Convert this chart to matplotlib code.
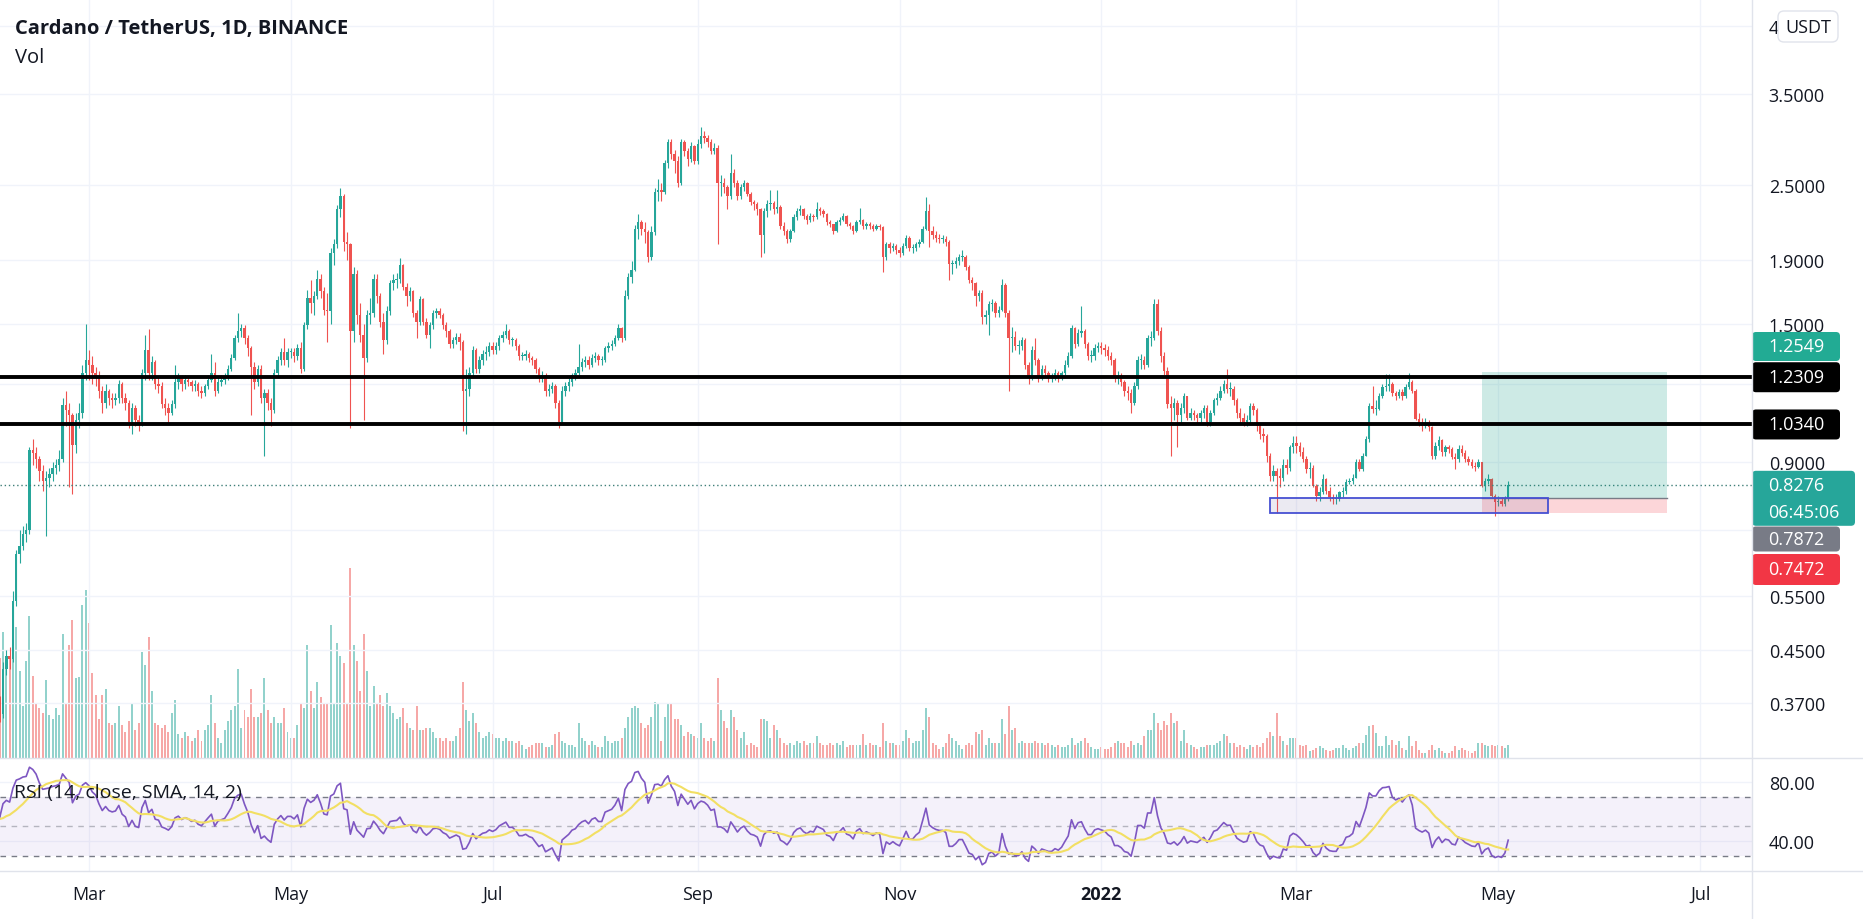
import numpy as np
import pandas as pd
import matplotlib
matplotlib.use("Agg")
import matplotlib.pyplot as plt
import matplotlib.dates as mdates
from matplotlib.patches import Rectangle, FancyBboxPatch

plt.rcParams['font.family'] = ['Open Sans', 'DejaVu Sans']

# Dec 31 2020 + January 2021 closes (left of the visible range, only warm up the RSI)
warmup_close = [0.181, 0.175, 0.177, 0.205, 0.225, 0.258, 0.306, 0.311, 0.316, 0.321, 0.305,
                0.275, 0.284, 0.315, 0.349, 0.325, 0.349, 0.369, 0.373, 0.344, 0.333, 0.295,
                0.324, 0.317, 0.343, 0.324, 0.340, 0.310, 0.349, 0.331, 0.347, 0.366]

# daily ADA/USDT candles from 2021-02-01: (close, high, low, volume); open = previous close
feb21 = [(0.370, 0.390, 0.350, 90), (0.355, 0.380, 0.345, 100), (0.420, 0.430, 0.350, 126),
         (0.440, 0.450, 0.410, 102), (0.435, 0.455, 0.420, 102), (0.540, 0.560, 0.430, 106),
         (0.640, 0.650, 0.530, 130), (0.660, 0.700, 0.620, 87), (0.690, 0.710, 0.650, 52),
         (0.700, 0.720, 0.670, 97), (0.940, 0.950, 0.690, 141), (0.930, 0.980, 0.890, 82),
         (0.910, 0.950, 0.880, 54), (0.870, 0.920, 0.840, 50), (0.840, 0.890, 0.810, 45),
         (0.850, 0.870, 0.685, 78), (0.860, 0.880, 0.820, 43), (0.880, 0.900, 0.840, 39),
         (0.890, 0.910, 0.860, 50), (0.910, 0.940, 0.870, 43), (1.110, 1.140, 0.900, 124),
         (1.090, 1.170, 1.030, 54), (1.070, 1.120, 0.820, 113), (0.960, 1.080, 0.800, 137),
         (1.050, 1.080, 0.930, 80), (1.080, 1.120, 1.020, 81), (1.250, 1.290, 1.060, 152),
         (1.310, 1.500, 1.220, 167)]
mar21 = [(1.29, 1.36, 1.22, 134), (1.25, 1.33, 1.20, 85), (1.23, 1.28, 1.19, 63),
         (1.17, 1.26, 1.14, 39), (1.12, 1.19, 1.08, 63), (1.17, 1.20, 1.10, 69),
         (1.14, 1.18, 1.11, 35), (1.13, 1.16, 1.10, 33), (1.14, 1.16, 1.11, 35),
         (1.20, 1.22, 1.12, 52), (1.14, 1.21, 1.12, 33), (1.12, 1.16, 1.09, 26),
         (1.045, 1.13, 1.02, 37), (1.10, 1.12, 1.00, 54), (1.05, 1.11, 1.03, 28),
         (1.04, 1.07, 1.01, 35), (1.25, 1.27, 1.03, 106), (1.36, 1.44, 1.22, 93),
         (1.25, 1.47, 1.22, 121), (1.30, 1.33, 1.22, 67), (1.20, 1.31, 1.18, 35),
         (1.19, 1.23, 1.16, 33), (1.115, 1.21, 1.10, 30), (1.10, 1.14, 1.07, 33),
         (1.08, 1.12, 1.045, 26), (1.115, 1.13, 1.07, 45), (1.21, 1.29, 1.10, 58),
         (1.23, 1.25, 1.18, 24), (1.20, 1.24, 1.17, 20), (1.22, 1.24, 1.18, 26),
         (1.21, 1.23, 1.19, 22)]
apr21 = [(1.19, 1.22, 1.17, 17), (1.20, 1.22, 1.17, 20), (1.17, 1.21, 1.15, 28),
         (1.16, 1.19, 1.14, 17), (1.19, 1.20, 1.15, 28), (1.22, 1.24, 1.18, 33),
         (1.25, 1.34, 1.21, 63), (1.17, 1.30, 1.15, 35), (1.21, 1.23, 1.16, 20),
         (1.22, 1.24, 1.19, 15), (1.23, 1.25, 1.20, 28), (1.27, 1.29, 1.22, 37),
         (1.32, 1.34, 1.26, 48), (1.42, 1.44, 1.31, 52), (1.46, 1.56, 1.40, 89),
         (1.475, 1.50, 1.43, 30), (1.42, 1.49, 1.39, 48), (1.37, 1.44, 1.33, 41),
         (1.28, 1.38, 1.07, 69), (1.21, 1.30, 1.18, 41), (1.27, 1.29, 1.19, 41),
         (1.14, 1.29, 1.12, 45), (1.16, 1.18, 0.92, 80), (1.12, 1.18, 1.09, 48),
         (1.09, 1.14, 1.03, 35), (1.25, 1.27, 1.08, 41), (1.31, 1.33, 1.23, 35),
         (1.35, 1.37, 1.29, 35), (1.31, 1.42, 1.29, 50), (1.35, 1.37, 1.28, 26)]
may21 = [(1.35, 1.37, 1.32, 20), (1.33, 1.37, 1.30, 20), (1.37, 1.39, 1.31, 33),
         (1.27, 1.40, 1.25, 54), (1.49, 1.51, 1.26, 50), (1.65, 1.70, 1.47, 113),
         (1.62, 1.76, 1.56, 67), (1.66, 1.69, 1.55, 50), (1.77, 1.83, 1.64, 76),
         (1.69, 1.80, 1.65, 61), (1.58, 1.72, 1.55, 54), (1.57, 1.68, 1.40, 54),
         (1.95, 1.98, 1.50, 132), (2.01, 2.05, 1.86, 54), (2.29, 2.32, 1.98, 115),
         (2.40, 2.47, 2.22, 102), (2.03, 2.42, 1.96, 95), (2.01, 2.10, 1.90, 54),
         (1.46, 2.02, 1.02, 189), (1.80, 1.85, 1.40, 113), (1.55, 1.83, 1.50, 97),
         (1.44, 1.62, 1.40, 67), (1.32, 1.50, 1.05, 124), (1.55, 1.58, 1.30, 87),
         (1.56, 1.65, 1.50, 52), (1.77, 1.80, 1.54, 72), (1.66, 1.80, 1.62, 54),
         (1.51, 1.68, 1.48, 63), (1.41, 1.56, 1.34, 52), (1.57, 1.60, 1.39, 65),
         (1.74, 1.76, 1.55, 52)]
jun21 = [(1.76, 1.80, 1.70, 45), (1.77, 1.81, 1.71, 39), (1.86, 1.91, 1.74, 41),
         (1.72, 1.87, 1.70, 50), (1.66, 1.74, 1.60, 35), (1.69, 1.72, 1.63, 30),
         (1.56, 1.70, 1.54, 28), (1.51, 1.58, 1.42, 52), (1.64, 1.66, 1.49, 28),
         (1.51, 1.65, 1.49, 28), (1.44, 1.53, 1.42, 30), (1.49, 1.51, 1.37, 30),
         (1.56, 1.58, 1.47, 26), (1.57, 1.59, 1.53, 20), (1.55, 1.59, 1.53, 20),
         (1.49, 1.56, 1.47, 17), (1.46, 1.51, 1.43, 20), (1.39, 1.47, 1.37, 17),
         (1.41, 1.43, 1.37, 17), (1.43, 1.45, 1.39, 22), (1.40, 1.45, 1.36, 30),
         (1.17, 1.41, 1.01, 76), (1.18, 1.27, 1.00, 48), (1.25, 1.28, 1.15, 37),
         (1.36, 1.38, 1.23, 45), (1.27, 1.37, 1.25, 35), (1.31, 1.33, 1.25, 26),
         (1.34, 1.36, 1.29, 20), (1.35, 1.38, 1.31, 22), (1.38, 1.40, 1.33, 26)]
jul21 = [(1.36, 1.40, 1.34, 24), (1.38, 1.40, 1.34, 20), (1.42, 1.44, 1.36, 20),
         (1.44, 1.46, 1.40, 17), (1.46, 1.50, 1.42, 20), (1.41, 1.47, 1.39, 17),
         (1.41, 1.43, 1.38, 17), (1.38, 1.42, 1.36, 15), (1.33, 1.39, 1.31, 17),
         (1.33, 1.35, 1.31, 13), (1.34, 1.36, 1.31, 9), (1.32, 1.35, 1.30, 11),
         (1.31, 1.33, 1.29, 13), (1.27, 1.32, 1.25, 15), (1.23, 1.28, 1.21, 15),
         (1.24, 1.26, 1.21, 15), (1.17, 1.25, 1.15, 11), (1.18, 1.20, 1.15, 11),
         (1.19, 1.21, 1.16, 13), (1.12, 1.20, 1.10, 24), (1.045, 1.13, 1.02, 26),
         (1.17, 1.19, 1.04, 17), (1.19, 1.21, 1.15, 15), (1.21, 1.23, 1.17, 13),
         (1.24, 1.25, 1.19, 13), (1.25, 1.27, 1.22, 11), (1.28, 1.39, 1.24, 35),
         (1.30, 1.32, 1.26, 20), (1.31, 1.33, 1.28, 17), (1.29, 1.33, 1.27, 13),
         (1.32, 1.34, 1.28, 17)]
aug21 = [(1.33, 1.35, 1.30, 13), (1.31, 1.34, 1.29, 11), (1.31, 1.33, 1.29, 11),
         (1.37, 1.38, 1.30, 22), (1.38, 1.40, 1.35, 17), (1.39, 1.41, 1.36, 15),
         (1.42, 1.44, 1.38, 17), (1.475, 1.50, 1.41, 17), (1.42, 1.48, 1.40, 20),
         (1.66, 1.70, 1.41, 30), (1.78, 1.81, 1.64, 41), (1.83, 1.89, 1.74, 50),
         (2.13, 2.16, 1.82, 52), (2.18, 2.25, 2.05, 50), (2.13, 2.20, 2.08, 35),
         (2.10, 2.18, 2.02, 30), (1.92, 2.12, 1.88, 33), (2.10, 2.15, 1.90, 41),
         (2.44, 2.47, 2.08, 56), (2.46, 2.56, 2.36, 54), (2.44, 2.52, 2.36, 17),
         (2.71, 2.74, 2.42, 41), (2.93, 2.96, 2.66, 54), (2.80, 2.97, 2.75, 54),
         (2.73, 2.85, 2.62, 39), (2.52, 2.78, 2.48, 39), (2.93, 2.96, 2.50, 33),
         (2.84, 2.95, 2.78, 22), (2.75, 2.87, 2.68, 26), (2.89, 2.93, 2.72, 24),
         (2.73, 2.90, 2.70, 22)]
sep21 = [(2.91, 2.96, 2.70, 20), (3.00, 3.10, 2.87, 35), (2.98, 3.05, 2.92, 20),
         (2.93, 3.01, 2.88, 17), (2.84, 2.96, 2.80, 20), (2.87, 2.92, 2.80, 17),
         (2.52, 2.90, 2.01, 80), (2.52, 2.60, 2.40, 48), (2.48, 2.57, 2.43, 37),
         (2.40, 2.50, 2.29, 30), (2.62, 2.80, 2.38, 48), (2.52, 2.65, 2.48, 41),
         (2.40, 2.55, 2.37, 28), (2.48, 2.51, 2.38, 20), (2.52, 2.55, 2.45, 26),
         (2.42, 2.53, 2.40, 13), (2.35, 2.44, 2.32, 15), (2.33, 2.37, 2.28, 13),
         (2.29, 2.35, 2.24, 11), (2.08, 2.30, 1.92, 39), (2.27, 2.30, 1.95, 39),
         (2.33, 2.37, 2.22, 37), (2.34, 2.46, 2.28, 20), (2.29, 2.36, 2.25, 33),
         (2.31, 2.46, 2.26, 28), (2.15, 2.32, 2.13, 20), (2.11, 2.18, 2.08, 15),
         (2.05, 2.13, 2.02, 13), (2.11, 2.13, 2.03, 15), (2.22, 2.25, 2.10, 13)]
oct21 = [(2.27, 2.30, 2.20, 17), (2.29, 2.32, 2.24, 15), (2.23, 2.30, 2.21, 17),
         (2.20, 2.25, 2.17, 13), (2.23, 2.26, 2.18, 15), (2.22, 2.25, 2.19, 15),
         (2.29, 2.35, 2.21, 22), (2.27, 2.31, 2.24, 15), (2.25, 2.29, 2.22, 13),
         (2.18, 2.26, 2.16, 13), (2.165, 2.20, 2.14, 15), (2.11, 2.17, 2.09, 13),
         (2.18, 2.20, 2.10, 15), (2.20, 2.22, 2.16, 13), (2.235, 2.26, 2.19, 17),
         (2.165, 2.24, 2.15, 11), (2.15, 2.18, 2.13, 13), (2.11, 2.16, 2.09, 13),
         (2.18, 2.20, 2.10, 13), (2.20, 2.30, 2.17, 13), (2.15, 2.21, 2.13, 24),
         (2.165, 2.18, 2.13, 13), (2.15, 2.18, 2.13, 15), (2.13, 2.17, 2.11, 13),
         (2.15, 2.17, 2.12, 13), (2.14, 2.17, 2.12, 11), (1.92, 2.15, 1.815, 35),
         (2.01, 2.03, 1.90, 17), (1.98, 2.03, 1.95, 15), (2.00, 2.02, 1.96, 15),
         (1.97, 2.01, 1.94, 13)]
nov21 = [(1.95, 1.99, 1.92, 13), (2.00, 2.02, 1.93, 17), (2.06, 2.08, 1.98, 28),
         (1.98, 2.07, 1.96, 20), (1.98, 2.01, 1.95, 15), (2.01, 2.03, 1.96, 17),
         (2.03, 2.05, 1.99, 17), (2.13, 2.15, 2.02, 28), (2.27, 2.39, 2.12, 50),
         (2.11, 2.33, 1.99, 41), (2.08, 2.15, 2.05, 15), (2.06, 2.11, 2.03, 13),
         (2.05, 2.09, 2.02, 9), (2.05, 2.08, 2.02, 11), (2.03, 2.07, 2.00, 15),
         (1.87, 2.04, 1.76, 24), (1.87, 1.90, 1.80, 20), (1.89, 1.92, 1.84, 17),
         (1.92, 1.94, 1.86, 13), (1.92, 1.97, 1.89, 9), (1.85, 1.93, 1.83, 13),
         (1.76, 1.86, 1.74, 15), (1.74, 1.78, 1.70, 13), (1.66, 1.75, 1.60, 26),
         (1.68, 1.70, 1.63, 24), (1.535, 1.70, 1.50, 28), (1.55, 1.58, 1.50, 13),
         (1.61, 1.63, 1.44, 20), (1.62, 1.64, 1.57, 15), (1.56, 1.63, 1.54, 15)]
dec21 = [(1.58, 1.60, 1.54, 15), (1.73, 1.77, 1.57, 39), (1.56, 1.74, 1.54, 24),
         (1.42, 1.58, 1.17, 52), (1.43, 1.48, 1.35, 28), (1.38, 1.46, 1.36, 30),
         (1.38, 1.41, 1.34, 15), (1.41, 1.43, 1.36, 17), (1.29, 1.42, 1.27, 15),
         (1.23, 1.30, 1.20, 15), (1.36, 1.38, 1.22, 15), (1.31, 1.42, 1.29, 17),
         (1.23, 1.32, 1.21, 15), (1.27, 1.29, 1.22, 15), (1.25, 1.29, 1.23, 13),
         (1.23, 1.26, 1.21, 15), (1.23, 1.25, 1.21, 13), (1.25, 1.27, 1.22, 11),
         (1.23, 1.26, 1.21, 13), (1.25, 1.26, 1.22, 11), (1.29, 1.31, 1.24, 11),
         (1.33, 1.35, 1.28, 13), (1.475, 1.49, 1.32, 20), (1.39, 1.48, 1.37, 13),
         (1.45, 1.47, 1.38, 15), (1.46, 1.60, 1.43, 17), (1.39, 1.47, 1.37, 20),
         (1.33, 1.40, 1.31, 15), (1.33, 1.36, 1.30, 11), (1.37, 1.39, 1.31, 9),
         (1.38, 1.40, 1.35, 9)]
jan22 = [(1.37, 1.40, 1.34, 11), (1.36, 1.39, 1.33, 9), (1.33, 1.38, 1.31, 9),
         (1.31, 1.35, 1.29, 11), (1.23, 1.32, 1.21, 15), (1.23, 1.26, 1.20, 17),
         (1.21, 1.25, 1.19, 15), (1.17, 1.22, 1.15, 15), (1.16, 1.19, 1.13, 11),
         (1.12, 1.18, 1.08, 17), (1.19, 1.21, 1.11, 13), (1.31, 1.33, 1.18, 15),
         (1.31, 1.34, 1.27, 13), (1.29, 1.33, 1.27, 22), (1.42, 1.44, 1.28, 28),
         (1.42, 1.46, 1.38, 28), (1.61, 1.64, 1.41, 45), (1.46, 1.64, 1.44, 35),
         (1.33, 1.48, 1.30, 28), (1.26, 1.35, 1.24, 37), (1.115, 1.28, 1.10, 33),
         (1.10, 1.15, 0.92, 45), (1.12, 1.14, 1.05, 35), (1.07, 1.13, 0.95, 37),
         (1.10, 1.12, 1.04, 17), (1.15, 1.16, 1.08, 28), (1.06, 1.15, 1.05, 15),
         (1.08, 1.10, 1.05, 13), (1.07, 1.09, 1.05, 11), (1.06, 1.08, 1.04, 9),
         (1.08, 1.09, 1.04, 11)]
feb22 = [(1.10, 1.11, 1.06, 11), (1.045, 1.11, 1.03, 13), (1.08, 1.09, 1.03, 13),
         (1.13, 1.14, 1.07, 13), (1.14, 1.16, 1.11, 15), (1.17, 1.19, 1.13, 17),
         (1.20, 1.22, 1.16, 24), (1.18, 1.27, 1.16, 22), (1.18, 1.21, 1.15, 15),
         (1.13, 1.19, 1.11, 15), (1.08, 1.14, 1.06, 11), (1.06, 1.10, 1.04, 13),
         (1.045, 1.08, 1.03, 11), (1.05, 1.07, 1.03, 9), (1.105, 1.12, 1.04, 13),
         (1.09, 1.12, 1.07, 11), (1.03, 1.10, 1.01, 13), (1.00, 1.04, 0.98, 11),
         (0.99, 1.02, 0.97, 15), (0.92, 1.00, 0.90, 20), (0.856, 0.93, 0.84, 26),
         (0.87, 0.89, 0.84, 22), (0.856, 0.88, 0.747, 45), (0.85, 0.88, 0.82, 22),
         (0.89, 0.91, 0.84, 17), (0.88, 0.91, 0.86, 13), (0.95, 0.96, 0.87, 20),
         (0.965, 0.99, 0.93, 20)]
mar22 = [(0.955, 0.99, 0.93, 20), (0.935, 0.97, 0.92, 13), (0.91, 0.95, 0.90, 12),
         (0.877, 0.92, 0.865, 13), (0.88, 0.90, 0.85, 7), (0.825, 0.89, 0.82, 8),
         (0.795, 0.83, 0.78, 10), (0.805, 0.82, 0.78, 12), (0.846, 0.86, 0.80, 10),
         (0.81, 0.85, 0.80, 8), (0.79, 0.82, 0.78, 7), (0.785, 0.80, 0.77, 8),
         (0.785, 0.80, 0.77, 10), (0.805, 0.81, 0.78, 10), (0.81, 0.82, 0.79, 13),
         (0.836, 0.845, 0.80, 10), (0.84, 0.85, 0.83, 8), (0.85, 0.86, 0.83, 10),
         (0.899, 0.91, 0.85, 12), (0.877, 0.91, 0.87, 15), (0.921, 0.93, 0.87, 15),
         (0.98, 0.99, 0.92, 23), (1.108, 1.12, 0.97, 32), (1.095, 1.19, 1.08, 33),
         (1.095, 1.13, 1.07, 25), (1.15, 1.16, 1.09, 12), (1.186, 1.20, 1.14, 12),
         (1.19, 1.245, 1.17, 22), (1.20, 1.245, 1.17, 13), (1.16, 1.21, 1.15, 18),
         (1.15, 1.17, 1.13, 13)]
apr22 = [(1.164, 1.18, 1.14, 17), (1.15, 1.18, 1.13, 10), (1.186, 1.20, 1.14, 8),
         (1.208, 1.25, 1.18, 22), (1.17, 1.22, 1.16, 12), (1.055, 1.18, 1.05, 17),
         (1.04, 1.08, 1.03, 8), (1.03, 1.06, 1.01, 5), (1.04, 1.06, 1.02, 5),
         (1.023, 1.05, 1.01, 8), (0.921, 1.03, 0.91, 13), (0.956, 0.97, 0.91, 8),
         (0.975, 0.99, 0.94, 10), (0.933, 0.98, 0.92, 7), (0.95, 0.96, 0.92, 5),
         (0.944, 0.96, 0.93, 5), (0.916, 0.95, 0.91, 7), (0.91, 0.93, 0.877, 12),
         (0.944, 0.96, 0.90, 8), (0.93, 0.96, 0.92, 10), (0.91, 0.94, 0.90, 8),
         (0.899, 0.92, 0.89, 7), (0.888, 0.91, 0.88, 5), (0.885, 0.90, 0.87, 7),
         (0.899, 0.91, 0.88, 15), (0.825, 0.90, 0.82, 15), (0.84, 0.85, 0.81, 13),
         (0.846, 0.86, 0.83, 12), (0.795, 0.85, 0.79, 13), (0.776, 0.80, 0.738, 12)]
may22 = [(0.78, 0.795, 0.765, 13), (0.772, 0.79, 0.765, 12), (0.785, 0.795, 0.765, 10),
         (0.8276, 0.84, 0.78, 13)]

# drawings
levels = [1.2309, 1.0340]
entry, target, stop = 0.7872, 1.2549, 0.7472
zone_start, zone_end = '2022-02-21', '2022-05-16'
pos_start, pos_end = '2022-04-26', '2022-06-21'
countdown = '06:45:06'

UP, DOWN = '#26a69a', '#ef5350'
TXT = '#131722'
SEP = '#e0e3eb'
GRID = '#f0f3fa'

months = [feb21, mar21, apr21, may21, jun21, jul21, aug21, sep21, oct21, nov21,
          dec21, jan22, feb22, mar22, apr22, may22]
rows = np.array([r for m in months for r in m], dtype=float)
close, high, low, vol = rows[:, 0], rows[:, 1], rows[:, 2], rows[:, 3]
open_ = np.concatenate([[warmup_close[-1]], close[:-1]])
high = np.maximum(high, np.maximum(open_, close))
low = np.minimum(low, np.minimum(open_, close))
dates = pd.date_range('2021-02-01', periods=len(close), freq='D')
x = mdates.date2num(dates)
up = close >= open_
col = np.where(up, UP, DOWN)

# RSI 14 (Wilder) + SMA 14
s = pd.Series(np.concatenate([warmup_close, close]))
d = s.diff()
gain = d.clip(lower=0).ewm(alpha=1 / 14, adjust=False).mean()
loss = (-d.clip(upper=0)).ewm(alpha=1 / 14, adjust=False).mean()
rsi_all = 100 - 100 / (1 + gain / loss)
rsi = rsi_all.values[-len(close):]
rsi_ma = rsi_all.rolling(14).mean().values[-len(close):]

W, H = 1863, 920
PANE_R, MAIN_B, RSI_B = 1752, 759, 872
fig = plt.figure(figsize=(W / 100, H / 100), dpi=100)
fig.patch.set_facecolor('white')
main_rect = [0, 1 - MAIN_B / H, PANE_R / W, MAIN_B / H]
ax_vol = fig.add_axes(main_rect)
ax = fig.add_axes(main_rect, sharex=ax_vol)
ax.patch.set_visible(False)
ax_rsi = fig.add_axes([0, 1 - RSI_B / H, PANE_R / W, (RSI_B - MAIN_B) / H], sharex=ax_vol)

x0 = x[0]
ax.set_xlim(x0 + 1.09, x0 + 530.7)

# volume
ax_vol.bar(x, vol, width=0.6, color=col, alpha=0.5, lw=0)
ax_vol.set_ylim(0, vol.max() * 4.0)
ax_vol.axis('off')

# candles
ax.set_yscale('log')
ax.set_ylim(0.302, 4.97)
ax.vlines(x, low, high, colors=col, lw=0.8, zorder=3)
blo = np.minimum(open_, close)
bh = np.maximum(np.abs(close - open_), blo * 0.004)
ax.bar(x, bh, bottom=blo, width=0.72, color=col, lw=0, zorder=4)

for lv in levels:
    ax.axhline(lv, color='black', lw=2.8, zorder=6)
ax.axhline(close[-1], color='#3f7f78', ls=(0, (1, 2)), lw=1, zorder=5)

# long position tool and support zone
zs, ze = mdates.date2num(pd.Timestamp(zone_start)), mdates.date2num(pd.Timestamp(zone_end))
ps, pe = mdates.date2num(pd.Timestamp(pos_start)), mdates.date2num(pd.Timestamp(pos_end))
ax.fill_between([ps, pe], entry, target, color='#089981', alpha=0.2, lw=0, zorder=5)
ax.fill_between([ps, pe], stop, entry, color='#f23645', alpha=0.2, lw=0, zorder=5)
ax.plot([ps, pe], [entry, entry], color='#787b86', lw=1, zorder=6)
ax.add_patch(Rectangle((zs, stop), ze - zs, entry - stop, fc=(0.42, 0.38, 0.62, 0.13),
                       ec='#4650d2', lw=1.3, zorder=7))

ticks = [0.37, 0.45, 0.55, 0.7, 0.9, 1.2, 1.5, 1.9, 2.5, 3.5, 4.5]
hidden = {0.7, 1.2}   # covered by the price tags in the reference
ax.set_yticks(ticks)
ax.set_yticklabels(['4' if t == 4.5 else ('' if t in hidden else f'{t:.4f}') for t in ticks])
ax.yaxis.set_minor_locator(matplotlib.ticker.NullLocator())
ax.yaxis.tick_right()
ax.tick_params(axis='y', length=0, pad=12, labelsize=13, labelcolor=TXT)
ax.tick_params(axis='x', length=0, labelbottom=False)
ax.grid(True, color=GRID, lw=1)
ax.set_axisbelow(True)
for sp in ax.spines.values():
    sp.set_visible(False)

# RSI pane
ax_rsi.set_ylim(19.7, 96.3)
ax_rsi.axhspan(30, 70, color='#7e57c2', alpha=0.08, lw=0)
for lv, a in [(70, 1), (50, 0.5), (30, 1)]:
    ax_rsi.axhline(lv, color='#787b86', lw=1, ls=(0, (4, 4)), alpha=a)
ax_rsi.plot(x, rsi, color='#7e57c2', lw=1.2)
ax_rsi.plot(x, rsi_ma, color='#f2df63', lw=1.5)
ax_rsi.set_yticks([40, 80])
ax_rsi.set_yticklabels(['40.00', '80.00'])
ax_rsi.yaxis.tick_right()
ax_rsi.tick_params(axis='y', length=0, pad=12, labelsize=13, labelcolor=TXT)
ax_rsi.grid(True, color=GRID, lw=1)
ax_rsi.set_axisbelow(True)
for sp in ax_rsi.spines.values():
    sp.set_visible(False)

mt = pd.date_range('2021-03-01', '2022-07-01', freq='2MS')
mlabels = [str(t.year) if t.month == 1 else t.strftime('%b') for t in mt]
ax_rsi.set_xticks(mdates.date2num(mt), mlabels)
ax_rsi.tick_params(axis='x', length=0, pad=10, labelsize=13, labelcolor=TXT)
for t, lab in zip(ax_rsi.get_xticklabels(), mlabels):
    if lab.isdigit():
        t.set_fontweight('bold')

# overlay: separators, legends, price tags
ov = fig.add_axes([0, 0, 1, 1], zorder=10)
ov.set_xlim(0, W)
ov.set_ylim(H, 0)
ov.axis('off')
ov.patch.set_visible(False)
ov.plot([PANE_R, PANE_R], [0, H], color=SEP, lw=1)
ov.plot([0, W], [MAIN_B, MAIN_B], color=SEP, lw=1)
ov.plot([0, W], [RSI_B, RSI_B], color=SEP, lw=1)

ov.text(15, 29, 'Cardano / TetherUS, 1D, BINANCE', fontsize=14.5, fontweight='bold',
        color=TXT, va='center')
ov.text(15, 58, 'Vol', fontsize=14.5, color=TXT, va='center')
ov.text(14, 793, 'RSI (14, close, SMA, 14, 2)', fontsize=14, color=TXT, va='center')


def ypix(p):
    return H - ax.transData.transform((x0, p))[1]


def tag(yc, hgt, color, lines, x1=1840, tc='white'):
    y0 = yc - hgt / 2
    ov.add_patch(FancyBboxPatch((PANE_R, y0), x1 - PANE_R, hgt,
                                boxstyle='round,pad=0,rounding_size=4', fc=color, ec='none'))
    step = hgt / len(lines)
    for i, s_ in enumerate(lines):
        ov.text(1768, y0 + step * (i + 0.5), s_, fontsize=13, color=tc, va='center', ha='left')


tag(347.5, 29, '#22ab94', [f'{target:.4f}'])
for lv in levels:
    tag(ypix(lv), 30, '#000000', [f'{lv:.4f}'])
tag(ypix(close[-1]) + 13.5, 55, '#26a69a', [f'{close[-1]:.4f}', countdown], x1=1855)
tag(540, 25, '#787b86', [f'{entry:.4f}'])
tag(570.5, 31, '#f23645', [f'{stop:.4f}'])

ov.add_patch(FancyBboxPatch((1778, 12), 60, 31, boxstyle='round,pad=0,rounding_size=6',
                            fc='white', ec=SEP, lw=1))
ov.text(1808, 28, 'USDT', fontsize=13, color=TXT, ha='center', va='center')

fig.savefig('out.png', dpi=100)
